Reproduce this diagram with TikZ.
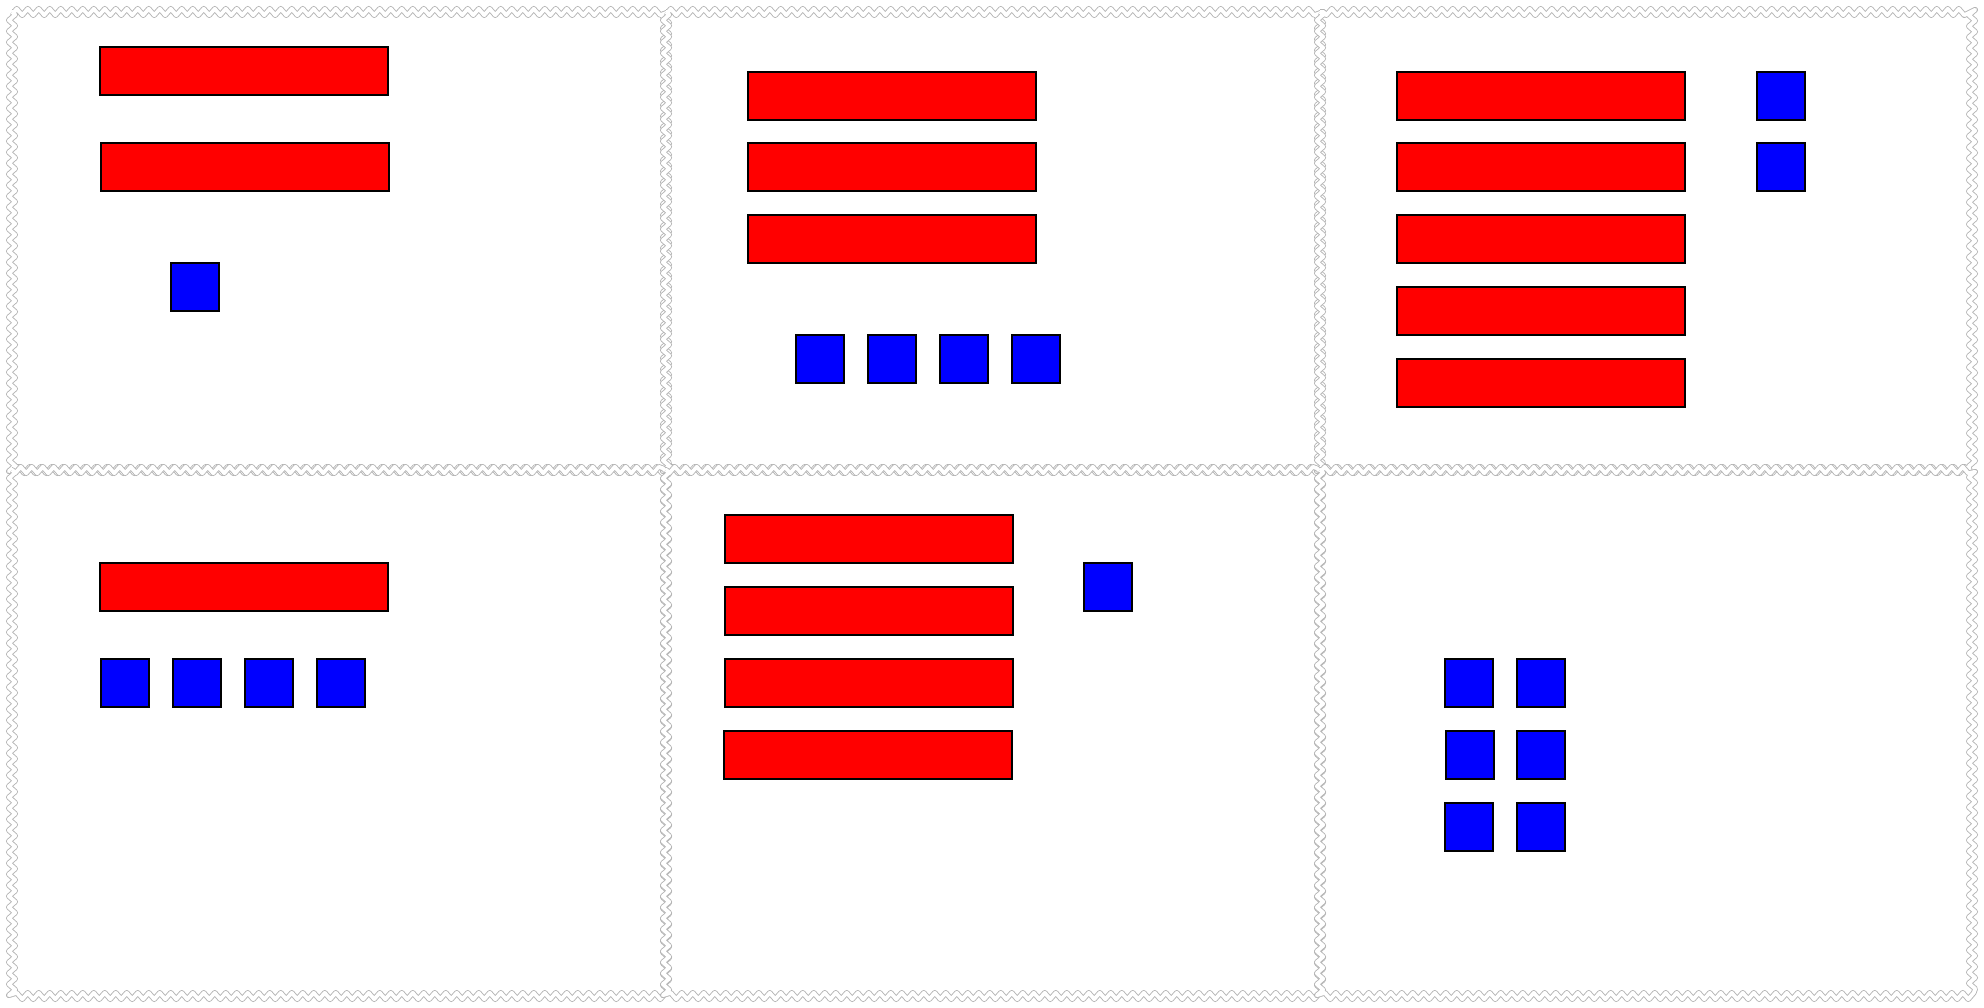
\documentclass[tikz,border=0pt]{standalone}
\usetikzlibrary{decorations.pathmorphing}
\definecolor{zz}{RGB}{180,180,180}
\tikzset{
  cellborder/.style={draw=zz, line width=0.9pt, double=white, double distance=3.8pt,
    line join=round, decorate, decoration={zigzag, segment length=11pt, amplitude=3.2pt}},
  redbar/.style={draw=black, fill=red, line width=1.5pt, anchor=north west,
    minimum width=288pt, minimum height=48pt, inner sep=0pt, outer sep=0pt},
  bluesq/.style={draw=black, fill=blue, line width=1.5pt, anchor=north west,
    minimum width=48pt, minimum height=48pt, inner sep=0pt, outer sep=0pt},
}
\begin{document}
\begin{tikzpicture}[x=1pt,y=-1pt]
\useasboundingbox (0,0) rectangle (1984,1008);
% cells
\draw[cellborder] (12,12) rectangle (666,470);
\draw[cellborder] (666,12) rectangle (1320,470);
\draw[cellborder] (1320,12) rectangle (1972,470);
\draw[cellborder] (12,470) rectangle (666,996);
\draw[cellborder] (666,470) rectangle (1320,996);
\draw[cellborder] (1320,470) rectangle (1972,996);
% top-left
\node[redbar] (tl1) at (100,47) {};
\node[redbar] (tl2) at (101,143) {};
\node[bluesq] (tls1) at (171,263) {};
% top-middle
\node[redbar] (tm1) at (748,72) {};
\node[redbar] (tm2) at (748,143) {};
\node[redbar] (tm3) at (748,215) {};
\node[bluesq] (tms1) at (796,335) {};
\node[bluesq] (tms2) at (868,335) {};
\node[bluesq] (tms3) at (940,335) {};
\node[bluesq] (tms4) at (1012,335) {};
% top-right
\node[redbar] (tr1) at (1397,72) {};
\node[redbar] (tr2) at (1397,143) {};
\node[redbar] (tr3) at (1397,215) {};
\node[redbar] (tr4) at (1397,287) {};
\node[redbar] (tr5) at (1397,359) {};
\node[bluesq] (trs1) at (1757,72) {};
\node[bluesq] (trs2) at (1757,143) {};
% bottom-left
\node[redbar] (bl1) at (100,563) {};
\node[bluesq] (bls1) at (101,659) {};
\node[bluesq] (bls2) at (173,659) {};
\node[bluesq] (bls3) at (245,659) {};
\node[bluesq] (bls4) at (317,659) {};
% bottom-middle
\node[redbar] (bm1) at (725,515) {};
\node[redbar] (bm2) at (725,587) {};
\node[redbar] (bm3) at (725,659) {};
\node[redbar] (bm4) at (724,731) {};
\node[bluesq] (bms1) at (1084,563) {};
% bottom-right
\node[bluesq] (brs1) at (1445,659) {};
\node[bluesq] (brs2) at (1517,659) {};
\node[bluesq] (brs3) at (1446,731) {};
\node[bluesq] (brs4) at (1517,731) {};
\node[bluesq] (brs5) at (1445,803) {};
\node[bluesq] (brs6) at (1517,803) {};
\end{tikzpicture}
\end{document}
